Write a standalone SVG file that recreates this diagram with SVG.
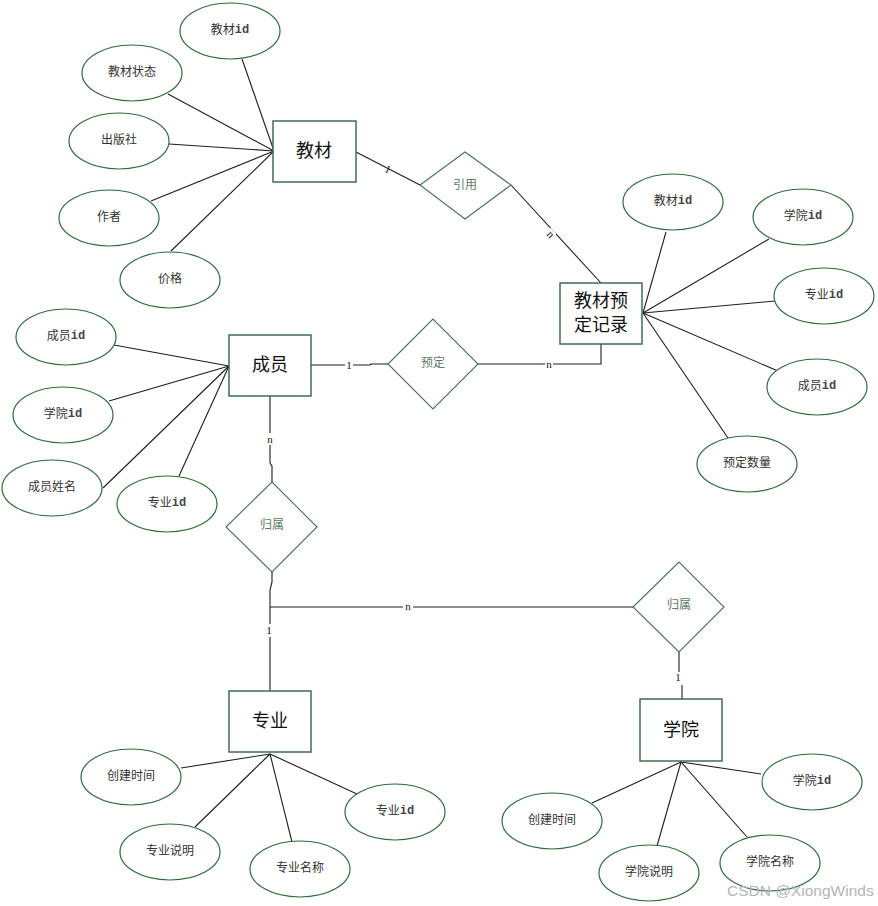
<svg xmlns="http://www.w3.org/2000/svg" width="878" height="906" viewBox="0 0 878 906">
<style>
.bg{fill:#ffffff}
.attr ellipse{fill:#ffffff;stroke:#2f6b3c;stroke-width:1.2}
.attr text{font-family:"Liberation Serif","Noto Sans CJK SC",serif;font-size:12px;fill:#333;text-anchor:middle;dominant-baseline:central}
.attr tspan.m{font-family:"Liberation Mono",monospace;font-weight:bold;fill:#444}
.ent rect{fill:#ffffff;stroke:#3f6e52;stroke-width:1.5}
.ent text{font-family:"Liberation Serif","Noto Sans CJK SC",serif;font-size:18px;fill:#111;text-anchor:middle;dominant-baseline:central}
.rel polygon{fill:#ffffff;stroke:#46745a;stroke-width:1.1}
.rel text{font-family:"Liberation Serif","Noto Sans CJK SC",serif;font-size:12px;fill:#5b7a66;text-anchor:middle;dominant-baseline:central}
#connectors line,#connectors polyline{stroke:#1e1e1e;stroke-width:1.1;fill:none}
.lbl{font-family:"Liberation Serif","Noto Sans CJK SC",serif;font-size:11px;fill:#111;text-anchor:middle;dominant-baseline:central}
.lblbg{fill:#ffffff}
.wm{font-family:"Liberation Sans","Noto Sans CJK SC",sans-serif;font-size:15.5px;fill:#b5b5b5}
</style>
<rect class="bg" x="0" y="0" width="878" height="906"/>
<g id="connectors">
<line x1="242" y1="59" x2="274" y2="151"/>
<line x1="168" y1="94" x2="274" y2="151"/>
<line x1="169" y1="144" x2="274" y2="151"/>
<line x1="151" y1="201" x2="274" y2="151"/>
<line x1="171" y1="251" x2="274" y2="151"/>
<line x1="666" y1="232" x2="643" y2="313"/>
<line x1="769" y1="239" x2="643" y2="313"/>
<line x1="775" y1="301" x2="643" y2="313"/>
<line x1="778" y1="371" x2="643" y2="313"/>
<line x1="728" y1="438" x2="643" y2="313"/>
<line x1="114" y1="345" x2="229" y2="366"/>
<line x1="109" y1="401" x2="229" y2="366"/>
<line x1="103" y1="488" x2="229" y2="366"/>
<line x1="179" y1="476" x2="229" y2="366"/>
<line x1="181" y1="768" x2="270" y2="754"/>
<line x1="195" y1="827" x2="270" y2="754"/>
<line x1="292" y1="842" x2="270" y2="754"/>
<line x1="357" y1="794" x2="270" y2="754"/>
<line x1="761" y1="774" x2="681" y2="762"/>
<line x1="592" y1="803" x2="681" y2="762"/>
<line x1="657" y1="846" x2="681" y2="762"/>
<line x1="747" y1="837" x2="681" y2="762"/>
<line x1="356" y1="152" x2="420" y2="185"/>
<line x1="511" y1="185" x2="601" y2="283"/>
<polyline points="311,365 370,365 371,364 388,364"/>
<polyline points="478,364 601,364 601,344"/>
<polyline points="270,396 270,463 272,466 272,482"/>
<polyline points="272,572 272,582 270,590 270,691"/>
<line x1="270" y1="607" x2="633" y2="607"/>
<polyline points="679,652 679,672"/>
<polyline points="682,685 682,699"/>
<text class="lbl" transform="translate(388,169) rotate(27)">1</text>
<rect class="lblbg" x="546" y="229" width="8" height="10" transform="rotate(47 550 234)"/>
<text class="lbl" transform="translate(551,234) rotate(47)">n</text>
<rect class="lblbg" x="345" y="359" width="8" height="12"/>
<text class="lbl" x="349" y="365">1</text>
<rect class="lblbg" x="545" y="359" width="8" height="10"/>
<text class="lbl" x="549" y="364">n</text>
<rect class="lblbg" x="265" y="433" width="10" height="12"/>
<text class="lbl" x="270" y="439">n</text>
<rect class="lblbg" x="403" y="602" width="10" height="10"/>
<text class="lbl" x="408" y="606">n</text>
<rect class="lblbg" x="265" y="624" width="9" height="13"/>
<text class="lbl" x="269" y="630">1</text>
<text class="lbl" x="678" y="677">1</text>
</g>
<g id="e_jiaocai" class="ent"><rect x="273" y="121" width="83" height="61"/><text x="314" y="151">教材</text></g>
<g id="e_record" class="ent"><rect x="560" y="283" width="82" height="61"/><text x="601" y="301">教材预</text><text x="601" y="325">定记录</text></g>
<g id="e_chengyuan" class="ent"><rect x="229" y="335" width="82" height="61"/><text x="270" y="365">成员</text></g>
<g id="e_zhuanye" class="ent"><rect x="229" y="691" width="82" height="61"/><text x="270" y="721">专业</text></g>
<g id="e_xueyuan" class="ent"><rect x="640" y="699" width="82" height="62"/><text x="681" y="730">学院</text></g>
<g id="r_yinyong" class="rel"><polygon points="420,185 465,152 511,185 465,219"/><text x="465" y="185">引用</text></g>
<g id="r_yuding" class="rel"><polygon points="388,364 433,319 478,364 433,409"/><text x="433" y="363">预定</text></g>
<g id="r_guishu1" class="rel"><polygon points="226,527 272,482 317,527 272,572"/><text x="272" y="525">归属</text></g>
<g id="r_guishu2" class="rel"><polygon points="633,607 679,562 724,607 679,652"/><text x="679" y="605">归属</text></g>
<g id="a_jc_id" class="attr"><ellipse cx="230" cy="31" rx="50" ry="28"/><text x="230" y="30">教材<tspan class="m">id</tspan></text></g>
<g id="a_jc_zt" class="attr"><ellipse cx="132" cy="73" rx="50" ry="28"/><text x="132" y="72">教材状态</text></g>
<g id="a_jc_cbs" class="attr"><ellipse cx="119" cy="141" rx="50" ry="28"/><text x="119" y="140">出版社</text></g>
<g id="a_jc_zz" class="attr"><ellipse cx="109" cy="218" rx="50" ry="28"/><text x="109" y="217">作者</text></g>
<g id="a_jc_jg" class="attr"><ellipse cx="170" cy="280" rx="50" ry="28"/><text x="170" y="279">价格</text></g>
<g id="a_rc_jcid" class="attr"><ellipse cx="673" cy="202" rx="50" ry="28"/><text x="673" y="201">教材<tspan class="m">id</tspan></text></g>
<g id="a_rc_xyid" class="attr"><ellipse cx="803" cy="217" rx="50" ry="28"/><text x="803" y="216">学院<tspan class="m">id</tspan></text></g>
<g id="a_rc_zyid" class="attr"><ellipse cx="824" cy="296" rx="50" ry="28"/><text x="824" y="295">专业<tspan class="m">id</tspan></text></g>
<g id="a_rc_cyid" class="attr"><ellipse cx="817" cy="387" rx="50" ry="28"/><text x="817" y="386">成员<tspan class="m">id</tspan></text></g>
<g id="a_rc_sl" class="attr"><ellipse cx="747" cy="464" rx="50" ry="28"/><text x="747" y="463">预定数量</text></g>
<g id="a_cy_id" class="attr"><ellipse cx="66" cy="337" rx="50" ry="28"/><text x="66" y="336">成员<tspan class="m">id</tspan></text></g>
<g id="a_cy_xyid" class="attr"><ellipse cx="63" cy="415" rx="50" ry="28"/><text x="63" y="414">学院<tspan class="m">id</tspan></text></g>
<g id="a_cy_xm" class="attr"><ellipse cx="52" cy="488" rx="50" ry="28"/><text x="52" y="487">成员姓名</text></g>
<g id="a_cy_zyid" class="attr"><ellipse cx="167" cy="504" rx="50" ry="28"/><text x="167" y="503">专业<tspan class="m">id</tspan></text></g>
<g id="a_zy_sj" class="attr"><ellipse cx="131" cy="777" rx="50" ry="28"/><text x="131" y="776">创建时间</text></g>
<g id="a_zy_sm" class="attr"><ellipse cx="170" cy="852" rx="50" ry="28"/><text x="170" y="851">专业说明</text></g>
<g id="a_zy_mc" class="attr"><ellipse cx="300" cy="869" rx="50" ry="28"/><text x="300" y="868">专业名称</text></g>
<g id="a_zy_id" class="attr"><ellipse cx="395" cy="812" rx="50" ry="28"/><text x="395" y="811">专业<tspan class="m">id</tspan></text></g>
<g id="a_xy_id" class="attr"><ellipse cx="812" cy="782" rx="50" ry="28"/><text x="812" y="781">学院<tspan class="m">id</tspan></text></g>
<g id="a_xy_sj" class="attr"><ellipse cx="552" cy="821" rx="50" ry="28"/><text x="552" y="820">创建时间</text></g>
<g id="a_xy_sm" class="attr"><ellipse cx="649" cy="873" rx="50" ry="28"/><text x="649" y="872">学院说明</text></g>
<g id="a_xy_mc" class="attr"><ellipse cx="770" cy="863" rx="50" ry="28"/><text x="770" y="862">学院名称</text></g>
<text class="wm" x="727" y="896">CSDN @XiongWinds</text>
</svg>
